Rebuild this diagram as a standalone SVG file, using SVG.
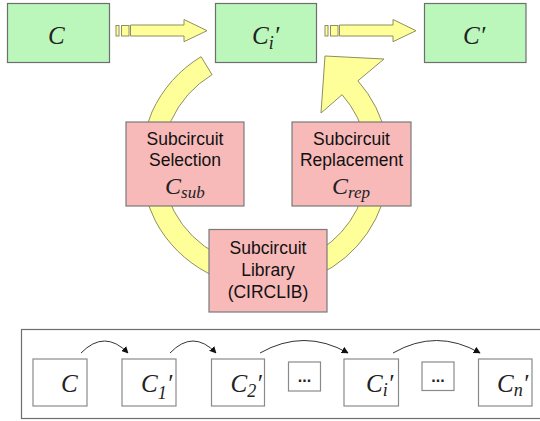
<svg xmlns="http://www.w3.org/2000/svg" width="540" height="421" viewBox="0 0 540 421">
<defs>
<style>
.g{fill:#BBF7BB;stroke:#6E6E6E;stroke-width:1.2}
.p{fill:#F8B9B9;stroke:#7A7A7A;stroke-width:1.2}
.y{fill:#FFFF99;stroke:#8E8E60;stroke-width:1}
.w{fill:#FFFFFF;stroke:#8A8A8A;stroke-width:1.2}
.m{font-family:"Liberation Serif",serif;font-style:italic;fill:#222}
.s{font-family:"Liberation Sans",Arial,sans-serif;font-size:17.5px;fill:#111;text-anchor:middle}
.c{fill:none;stroke:#333;stroke-width:1}
</style>
<marker id="ah" viewBox="0 0 10 10" refX="9" refY="5" markerWidth="7" markerHeight="7" orient="auto" markerUnits="userSpaceOnUse">
<path d="M0,0 L10,5 L0,10 z" fill="#111"/>
</marker>
</defs>
<rect width="540" height="421" fill="#FFFFFF"/>

<g id="connectors">
<g id="arrow-top-1">
<rect class="y" x="116" y="25.5" width="3" height="10.5"/>
<rect class="y" x="121.5" y="25.5" width="7.5" height="10.5"/>
<path class="y" d="M130.5,25 L184,25 L184,19.5 L207,30.7 L184,41.7 L184,36 L130.5,36 Z"/>
</g>
<g id="arrow-top-2">
<rect class="y" x="325" y="25.5" width="3" height="10.5"/>
<rect class="y" x="330.5" y="25.5" width="7.5" height="10.5"/>
<path class="y" d="M339.5,25 L393,25 L393,19.5 L416,30.7 L393,41.7 L393,36 L339.5,36 Z"/>
</g>
<path id="arc-left" class="y" d="M201.1,56.7 A124,124 0 0 0 243.5,285.1 L247.1,264.4 A103,103 0 0 1 212,74.7 Z"/>
<path id="arc-right" class="y" d="M286.5,285.1 A124,124 0 0 0 357.9,80.8 L384,59 L325,56 L321,113 L342.1,94.7 A103,103 0 0 1 282.9,264.4 Z"/>
<path class="c" marker-end="url(#ah)" d="M81,353 Q104.5,329 128,353"/>
<path class="c" marker-end="url(#ah)" d="M170,353 Q193,329 216,353"/>
<path class="c" marker-end="url(#ah)" d="M260,353 Q304,328 348,353"/>
<path class="c" marker-end="url(#ah)" d="M393,353 Q436.5,328 480,353"/>
</g>

<g id="node-C">
<rect class="g" x="7.5" y="3.5" width="102" height="59"/>
<text class="m" x="48" y="43.5" font-size="25">C</text>
</g>
<g id="node-Ci">
<rect class="g" x="215.5" y="3.5" width="101" height="59"/>
<text class="m" x="252" y="43.5" font-size="25">C<tspan font-size="18" dy="5">i</tspan><tspan dy="-5">′</tspan></text>
</g>
<g id="node-Cprime">
<rect class="g" x="424.5" y="3.5" width="101.5" height="59"/>
<text class="m" x="463" y="43.5" font-size="25">C′</text>
</g>

<g id="node-selection">
<rect class="p" x="126" y="122" width="118" height="84"/>
<text class="s" x="185" y="145">Subcircuit</text>
<text class="s" x="185" y="166">Selection</text>
<text class="m" x="165" y="194" font-size="24">C<tspan font-size="17" dy="4">sub</tspan></text>
</g>
<g id="node-replacement">
<rect class="p" x="292" y="122" width="119" height="84"/>
<text class="s" x="351.5" y="145">Subcircuit</text>
<text class="s" x="351.5" y="166">Replacement</text>
<text class="m" x="332" y="194" font-size="24">C<tspan font-size="17" dy="4">rep</tspan></text>
</g>
<g id="node-library">
<rect class="p" x="209" y="229.5" width="118" height="82.5"/>
<text class="s" x="268" y="254">Subcircuit</text>
<text class="s" x="268" y="276">Library</text>
<text class="s" x="268" y="298">(CIRCLIB)</text>
</g>

<g id="panel">
<rect x="21.5" y="329.5" width="530" height="89" fill="none" stroke="#6E6E6E" stroke-width="1.2"/>
</g>
<g id="seq-C">
<rect class="w" x="33" y="359" width="54" height="47"/>
<text class="m" x="61" y="392" font-size="25">C</text>
</g>
<g id="seq-C1">
<rect class="w" x="122" y="359" width="54" height="47"/>
<text class="m" x="141" y="392" font-size="25">C<tspan font-size="18" dy="7">1</tspan><tspan dy="-7">′</tspan></text>
</g>
<g id="seq-C2">
<rect class="w" x="211.5" y="359" width="53" height="47"/>
<text class="m" x="230.5" y="392" font-size="25">C<tspan font-size="18" dy="5">2</tspan><tspan dy="-5">′</tspan></text>
</g>
<g id="seq-dots1">
<rect class="w" x="288.5" y="362" width="32" height="29"/>
<text x="304.5" y="382" font-family="Liberation Sans,Arial,sans-serif" font-size="16" font-weight="bold" text-anchor="middle" fill="#222">...</text>
</g>
<g id="seq-Ci">
<rect class="w" x="344" y="359" width="54.5" height="47"/>
<text class="m" x="366" y="392" font-size="25">C<tspan font-size="18" dy="4">i</tspan><tspan dy="-4">′</tspan></text>
</g>
<g id="seq-dots2">
<rect class="w" x="422" y="362" width="32" height="28.5"/>
<text x="438" y="382" font-family="Liberation Sans,Arial,sans-serif" font-size="16" font-weight="bold" text-anchor="middle" fill="#222">...</text>
</g>
<g id="seq-Cn">
<rect class="w" x="478.5" y="359" width="53.5" height="47"/>
<text class="m" x="497" y="392" font-size="25">C<tspan font-size="18" dy="4">n</tspan><tspan dy="-4">′</tspan></text>
</g>
</svg>
